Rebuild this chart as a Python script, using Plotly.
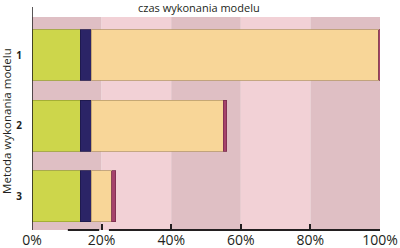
import plotly.graph_objects as go

categories = ["1", "2", "3"]
green_vals = [13.8, 13.8, 13.8]
blue_vals = [3.2, 3.2, 3.2]
tan_vals = [82.6, 38.0, 5.9]
pink_vals = [0.4, 0.9, 1.1]
x_ticks = [0, 20, 40, 60, 80, 100]
x_tick_text = ["0%", "20%", "40%", "60%", "80%", "100%"]
title_text = "czas wykonania modelu"
ytitle_text = "Metoda wykonania modelu"

series = [
    (green_vals, "#cdd64b", "#9aa530"),
    (blue_vals, "#2b2466", "#1d1848"),
    (tan_vals, "#f8d698", "#b99c6c"),
    (pink_vals, "#a5436b", "#7a2e4e"),
]

fig = go.Figure()
for vals, col, lcol in series:
    fig.add_trace(go.Bar(
        y=categories, x=vals, orientation="h",
        marker=dict(color=col, line=dict(color=lcol, width=0.8)),
        showlegend=False, hoverinfo="skip",
    ))

shapes = []
band_cols = ["#dfbfc4", "#f2d1d6", "#dfbfc4", "#f2d1d6", "#dfbfc4"]
for i, c in enumerate(band_cols):
    shapes.append(dict(type="rect", xref="x", yref="paper", x0=i * 20, x1=(i + 1) * 20,
                       y0=0, y1=1, fillcolor=c, line=dict(width=0), layer="below"))
# y axis line extending above plot
shapes.append(dict(type="line", xref="x", yref="paper", x0=0, x1=0, y0=0, y1=1.047,
                   line=dict(color="#231f20", width=1.5)))
# x axis line segments
for a, b in [(10.3, 19.3), (22.1, 100)]:
    shapes.append(dict(type="line", xref="x", yref="paper", x0=a, x1=b, y0=0, y1=0,
                       line=dict(color="#231f20", width=2)))

fig.update_layout(
    width=400, height=248,
    margin=dict(l=32, r=20, t=17, b=18, autoexpand=False),
    paper_bgcolor="white", plot_bgcolor="white",
    barmode="stack", bargap=0.28,
    shapes=shapes,
    font=dict(family="Open Sans", color="#231f20"),
    xaxis=dict(range=[0, 100], tickvals=x_ticks, ticktext=x_tick_text, automargin=False,
               ticks="inside", ticklen=6, tickwidth=1.5, tickcolor="#231f20",
               showgrid=False, zeroline=False, showline=False,
               tickfont=dict(size=14, color="#231f20")),
    yaxis=dict(range=[2.48, -0.54], showgrid=False, zeroline=False, showline=False,
               automargin=False,
               ticks="outside", ticklen=7, tickcolor="rgba(0,0,0,0)",
               tickfont=dict(size=10, color="#231f20", family="Open Sans", weight="bold")),
    annotations=[
        dict(text=title_text, xref="paper", yref="paper", x=0.481, y=1.045,
             xanchor="center", yanchor="middle", showarrow=False,
             font=dict(size=11, color="#231f20")),
        dict(text=ytitle_text, xref="paper", yref="paper", x=-0.072, y=0.512,
             xanchor="center", yanchor="middle", showarrow=False, textangle=-90,
             font=dict(size=11.5, color="#231f20")),
    ],
)

fig.write_html("out.html")
